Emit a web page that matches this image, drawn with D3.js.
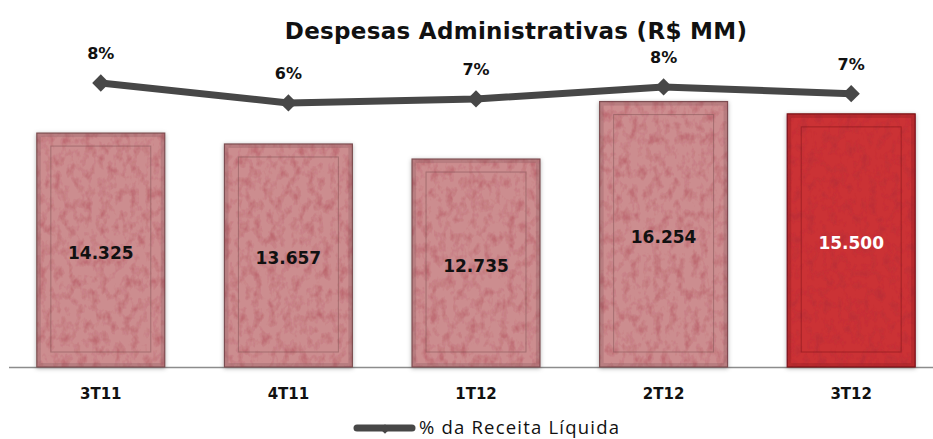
<!DOCTYPE html>
<html>
<head>
<meta charset="utf-8">
<script src="https://cdn.jsdelivr.net/npm/d3@7"></script>
<style>
  body { margin: 0; background: #fff; }
  svg { display: block; }
</style>
</head>
<body>
<div id="chart"></div>
<script>
const categories = ['3T11', '4T11', '1T12', '2T12', '3T12'];
const despesas = [14.325, 13.657, 12.735, 16.254, 15.500];
const despesasLabels = ['14.325', '13.657', '12.735', '16.254', '15.500'];
const pctReceita = [7.9, 6.4, 6.7, 7.6, 7.1];
const pctLabels = ['8%', '6%', '7%', '8%', '7%'];

const W = 933, H = 439;
const baseY = 367;

const svg = d3.select('#chart').append('svg')
    .attr('width', W)
    .attr('height', H);

const defs = svg.append('defs');

// mottled texture for the bars
const tex = defs.append('filter').attr('id', 'tex')
    .attr('x', 0).attr('y', 0).attr('width', 1).attr('height', 1);
tex.append('feTurbulence')
    .attr('type', 'fractalNoise')
    .attr('baseFrequency', '0.13 0.09')
    .attr('numOctaves', 3)
    .attr('seed', 7)
    .attr('result', 'noise');
tex.append('feColorMatrix')
    .attr('in', 'noise')
    .attr('type', 'matrix')
    .attr('values', '0 0 0 0 0.35  0 0 0 0 0.02  0 0 0 0 0.04  0 0 0 -0.8 0.44')
    .attr('result', 'spots');
tex.append('feComposite')
    .attr('in', 'spots')
    .attr('in2', 'SourceGraphic')
    .attr('operator', 'in');

const shadow = defs.append('filter').attr('id', 'shadow')
    .attr('x', '-10%').attr('y', '-10%').attr('width', '120%').attr('height', '120%');
shadow.append('feDropShadow')
    .attr('dx', 0).attr('dy', 1).attr('stdDeviation', 2)
    .attr('flood-color', '#000').attr('flood-opacity', 0.3);

const x = d3.scaleBand()
    .domain(categories)
    .range([7, 945])
    .paddingInner(0.318)
    .paddingOuter(0.159);

const y = d3.scaleLinear()
    .domain([0, 20])
    .range([baseY, 40.4]);

const y2 = d3.scaleLinear()
    .domain([0, 10])
    .range([188.3, 55]);

// baseline
svg.append('line')
    .attr('x1', 9).attr('x2', W)
    .attr('y1', baseY + 0.5).attr('y2', baseY + 0.5)
    .attr('stroke', '#8c8c8c')
    .attr('stroke-width', 1.5);

const bars = svg.append('g').selectAll('g')
    .data(categories)
    .join('g');

const baseColor = (d, i) => i === 4 ? '#cb3035' : '#cc8d8f';
const edgeColor = (d, i) => i === 4 ? '#7a1216' : '#7d5052';

bars.append('rect')
    .attr('x', d => x(d))
    .attr('y', (d, i) => y(despesas[i]))
    .attr('width', x.bandwidth())
    .attr('height', (d, i) => baseY - y(despesas[i]))
    .attr('fill', baseColor)
    .attr('stroke', edgeColor)
    .attr('stroke-width', 1.2)
    .attr('filter', 'url(#shadow)');

bars.append('rect')
    .attr('x', d => x(d))
    .attr('y', (d, i) => y(despesas[i]))
    .attr('width', x.bandwidth())
    .attr('height', (d, i) => baseY - y(despesas[i]))
    .attr('fill', baseColor)
    .attr('filter', 'url(#tex)');

// inner frame
bars.append('rect')
    .attr('x', d => x(d) + 14)
    .attr('y', (d, i) => y(despesas[i]) + 13)
    .attr('width', x.bandwidth() - 28)
    .attr('height', (d, i) => baseY - y(despesas[i]) - 28)
    .attr('fill', 'none')
    .attr('stroke', edgeColor)
    .attr('stroke-opacity', 0.5)
    .attr('stroke-width', 1);

// darker bevel edges
bars.append('rect')
    .attr('x', d => x(d) + 2)
    .attr('y', (d, i) => y(despesas[i]) + 2)
    .attr('width', x.bandwidth() - 4)
    .attr('height', (d, i) => baseY - y(despesas[i]) - 4)
    .attr('fill', 'none')
    .attr('stroke', edgeColor)
    .attr('stroke-opacity', 0.25)
    .attr('stroke-width', 4);

bars.append('text')
    .attr('x', d => x(d) + x.bandwidth() / 2)
    .attr('y', (d, i) => (y(despesas[i]) + baseY) / 2 + 9)
    .attr('text-anchor', 'middle')
    .attr('font-family', 'DejaVu Sans, Verdana, sans-serif')
    .attr('font-weight', 'bold')
    .attr('font-size', 17)
    .attr('fill', (d, i) => i === 4 ? '#fff' : '#111')
    .text((d, i) => despesasLabels[i]);

// category labels
svg.append('g').selectAll('text')
    .data(categories)
    .join('text')
    .attr('x', d => x(d) + x.bandwidth() / 2)
    .attr('y', 399)
    .attr('text-anchor', 'middle')
    .attr('font-family', 'DejaVu Sans, Verdana, sans-serif')
    .attr('font-weight', 'bold')
    .attr('font-size', 15)
    .attr('fill', '#111')
    .text(d => d);

// line
const cx = d => x(d) + x.bandwidth() / 2;
const line = d3.line()
    .x(d => cx(d))
    .y((d, i) => y2(pctReceita[i]));

svg.append('path')
    .datum(categories)
    .attr('d', line)
    .attr('fill', 'none')
    .attr('stroke', '#474747')
    .attr('stroke-width', 7)
    .attr('stroke-linejoin', 'round');

const diamond = d3.symbol().type(d3.symbolDiamond2).size(190);
svg.append('g').selectAll('path')
    .data(categories)
    .join('path')
    .attr('d', diamond)
    .attr('transform', (d, i) => `translate(${cx(d)},${y2(pctReceita[i])})`)
    .attr('fill', '#474747');

svg.append('g').selectAll('text')
    .data(categories)
    .join('text')
    .attr('x', d => cx(d))
    .attr('y', (d, i) => y2(pctReceita[i]) - 24)
    .attr('text-anchor', 'middle')
    .attr('font-family', 'DejaVu Sans, Verdana, sans-serif')
    .attr('font-weight', 'bold')
    .attr('font-size', 16)
    .attr('fill', '#111')
    .text((d, i) => pctLabels[i]);

// title
svg.append('text')
    .attr('x', 516)
    .attr('y', 39)
    .attr('text-anchor', 'middle')
    .attr('font-family', 'DejaVu Sans, Verdana, sans-serif')
    .attr('font-weight', 'bold')
    .attr('font-size', 23)
    .attr('letter-spacing', 0.3)
    .attr('fill', '#111')
    .text('Despesas Administrativas (R$ MM)');

// legend
const lg = svg.append('g').attr('transform', 'translate(357,428)');
lg.append('line')
    .attr('x1', 0).attr('x2', 55)
    .attr('stroke', '#474747')
    .attr('stroke-width', 7)
    .attr('stroke-linecap', 'round');
lg.append('path')
    .attr('d', d3.symbol().type(d3.symbolDiamond2).size(60))
    .attr('transform', 'translate(28,1)')
    .attr('fill', '#474747');
lg.append('text')
    .attr('x', 62)
    .attr('y', 6)
    .attr('font-family', 'Open Sans, sans-serif')
    .attr('font-size', 18.5)
    .attr('letter-spacing', 1.2)
    .attr('fill', '#111')
    .text('% da Receita Líquida');
</script>
</body>
</html>
